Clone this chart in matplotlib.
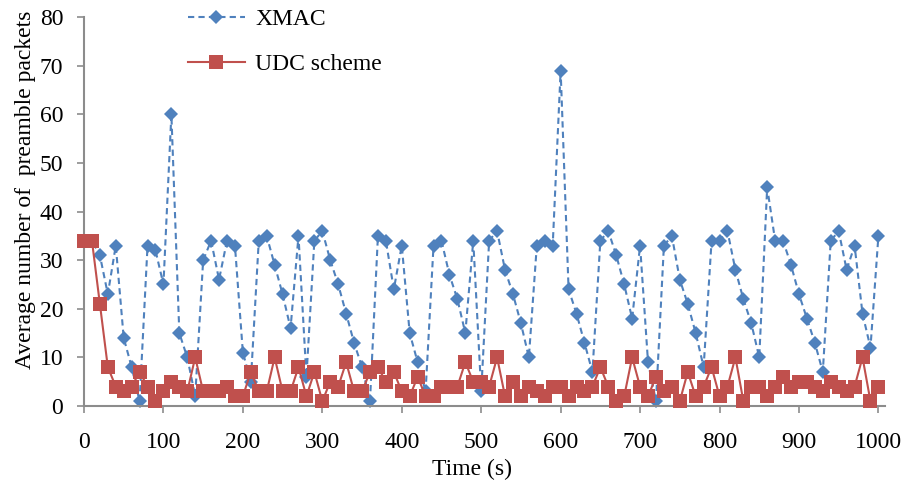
import matplotlib.pyplot as plt

# Data
times = list(range(0, 1001, 10))
xmac = [34, 34, 31, 23, 33, 14, 8, 1, 33, 32,
        25, 60, 15, 10, 2, 30, 34, 26, 34, 33,
        11, 5, 34, 35, 29, 23, 16, 35, 6, 34,
        36, 30, 25, 19, 13, 8, 1, 35, 34, 24,
        33, 15, 9, 3, 33, 34, 27, 22, 15, 34,
        3, 34, 36, 28, 23, 17, 10, 33, 34, 33,
        69, 24, 19, 13, 7, 34, 36, 31, 25, 18,
        33, 9, 1, 33, 35, 26, 21, 15, 8, 34,
        34, 36, 28, 22, 17, 10, 45, 34, 34, 29,
        23, 18, 13, 7, 34, 36, 28, 33, 19, 12,
        35]
udc = [34, 34, 21, 8, 4, 3, 4, 7, 4, 1,
       3, 5, 4, 3, 10, 3, 3, 3, 4, 2,
       2, 7, 3, 3, 10, 3, 3, 8, 2, 7,
       1, 5, 4, 9, 3, 3, 7, 8, 5, 7,
       3, 2, 6, 2, 2, 4, 4, 4, 9, 5,
       5, 4, 10, 2, 5, 2, 4, 3, 2, 4,
       4, 2, 4, 3, 4, 8, 4, 1, 2, 10,
       4, 2, 6, 3, 4, 1, 7, 2, 4, 8,
       2, 4, 10, 1, 4, 4, 2, 4, 6, 4,
       5, 5, 4, 3, 5, 4, 3, 4, 10, 1,
       4]

# Colors
blue_color = '#4F81BD'
red_color = '#C0504D'
axis_color = '#8C8C8C'

# Font serif (Times-like)
plt.rcParams['font.family'] = 'Liberation Serif'
fs = 17

fig = plt.figure(figsize=(9.11, 4.88), dpi=100)
ax = fig.add_axes([0.0922, 0.168, 0.879, 0.797])

ax.plot(times, xmac, color=blue_color, linestyle=(0, (3, 2)), linewidth=1.5,
        marker='D', markersize=7, markeredgewidth=0, label='XMAC',
        zorder=2, clip_on=False)
ax.plot(times, udc, color=red_color, linestyle='-', linewidth=1.5,
        marker='s', markersize=9.5, markeredgewidth=0, label='UDC scheme',
        zorder=3, clip_on=False)

# Axes
ax.set_xlim(0, 1008)
ax.set_ylim(0, 80)
ax.set_xticks(range(0, 1001, 100))
ax.set_yticks(range(0, 81, 10))
for side in ['top', 'right']:
    ax.spines[side].set_visible(False)
for side in ['left', 'bottom']:
    ax.spines[side].set_color(axis_color)
    ax.spines[side].set_linewidth(1.5)
ax.tick_params(axis='both', direction='out', color=axis_color, length=5,
               width=1.2, labelsize=fs)
ax.tick_params(axis='x', pad=14)
ax.tick_params(axis='y', pad=10)

# Labels
ax.set_xlabel('Time (s)', fontsize=fs)
ax.xaxis.set_label_coords(0.485, -0.137)
ax.set_ylabel('Average number of  preamble packets', fontsize=fs)
ax.yaxis.set_label_coords(-0.06, 0.555)

# Legend
ax.legend(loc='upper left', bbox_to_anchor=(188 / 911, 0.983),
          bbox_transform=fig.transFigure, frameon=False, fontsize=fs,
          handlelength=2.4, labelspacing=1.02, handletextpad=0.45,
          borderpad=0, borderaxespad=0)

plt.savefig('out.png', dpi=100)
